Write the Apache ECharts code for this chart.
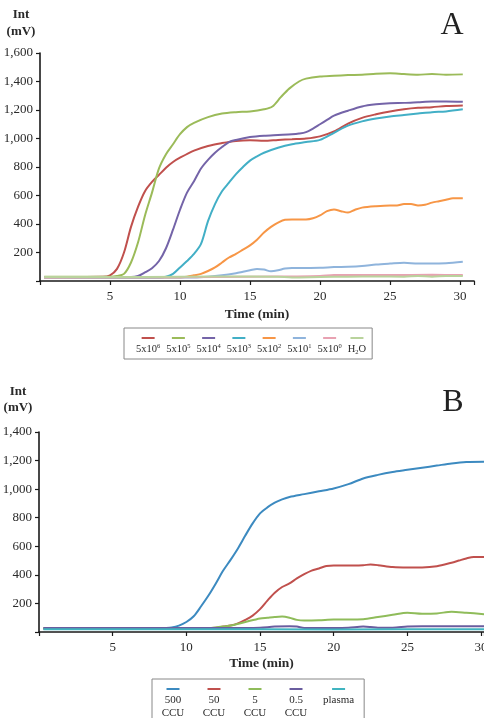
<!DOCTYPE html>
<html>
<head>
<meta charset="utf-8">
<script src="https://cdn.jsdelivr.net/npm/echarts@6/dist/echarts.min.js"></script>
<style>
html,body{margin:0;padding:0;background:#fff;}
#c{width:484px;height:718px;}
</style>
</head>
<body>
<div id="c"></div>
<script>
// ---------- Panel A data ----------
const namesA = ['5x10\u2076', '5x10\u2075', '5x10\u2074', '5x10\u00b3', '5x10\u00b2', '5x10\u00b9', '5x10\u2070', 'H\u2082O'];
// legend text pieces: [base, superscript] or [base, subscript, tail]
const legendPartsA = [['5x10', '6'], ['5x10', '5'], ['5x10', '4'], ['5x10', '3'], ['5x10', '2'], ['5x10', '1'], ['5x10', '0'], ['H', '2', 'O']];
const colorsA = ['#c0504d', '#9bbb59', '#7464a8', '#42afc6', '#f79646', '#8fb4dc', '#e8a2b2', '#b9d39c'];

const tA1 = [0.3, 4.5, 5.0, 5.5, 6.0, 6.5, 7.0, 7.5, 8.0, 8.5, 9.0, 9.5, 10, 11, 12, 13, 14, 15, 16, 17, 18, 19, 20, 21, 22, 23, 24, 25, 26, 27, 28, 29, 30.2];
const vA1 = [28, 30, 40, 85, 200, 380, 520, 630, 695, 745, 795, 835, 865, 915, 948, 968, 983, 988, 984, 990, 995, 1000, 1015, 1050, 1105, 1145, 1170, 1190, 1205, 1215, 1220, 1228, 1232];

const tA2 = [0.3, 5.0, 5.5, 6.0, 6.5, 7.0, 7.5, 8.0, 8.5, 9.0, 9.5, 10, 10.5, 11, 12, 13, 14, 15, 16, 16.6, 17.2, 17.8, 18.5, 19, 20, 21, 22, 23, 24, 25, 26, 27, 28, 29, 30.2];
const vA2 = [30, 30, 35, 50, 130, 270, 460, 620, 790, 890, 960, 1030, 1080, 1110, 1150, 1175, 1185, 1190, 1205, 1225, 1290, 1350, 1400, 1420, 1435, 1440, 1445, 1448, 1455, 1458, 1452, 1448, 1452, 1448, 1450];

const tA3 = [0.3, 6.5, 7.0, 7.5, 8.0, 8.5, 9.0, 9.5, 10, 10.5, 11, 11.5, 12, 12.5, 13, 13.5, 14, 15, 16, 17, 18, 18.5, 19, 19.5, 20, 20.5, 21, 22, 23, 24, 25, 26, 27, 28, 29, 30.2];
const vA3 = [28, 28, 35, 60, 90, 140, 230, 360, 500, 620, 700, 790, 850, 900, 940, 975, 990, 1010, 1020, 1025, 1030, 1035, 1045, 1070, 1100, 1130, 1160, 1195, 1225, 1240, 1248, 1250, 1255, 1260, 1260, 1258];

const tA4 = [0.3, 8.5, 9.0, 9.5, 10, 10.5, 11, 11.5, 12, 12.5, 13, 13.5, 14, 14.5, 15, 15.5, 16, 17, 18, 19, 20, 21, 22, 23, 24, 25, 26, 27, 28, 29, 30.2];
const vA4 = [25, 25, 30, 50, 95, 140, 190, 260, 420, 540, 630, 690, 750, 800, 845, 875, 900, 935, 960, 975, 990, 1040, 1090, 1120, 1140, 1155, 1165, 1175, 1185, 1190, 1205];

const tA5 = [0.3, 10, 10.5, 11, 11.5, 12, 12.5, 13, 13.5, 14, 14.5, 15, 15.5, 16, 16.5, 17, 17.5, 18, 19, 19.5, 20, 20.5, 21, 21.5, 22, 22.5, 23, 24, 25, 25.5, 26, 26.5, 27, 27.5, 28, 28.5, 29, 29.5, 30.2];
const vA5 = [25, 25, 30, 40, 50, 70, 95, 130, 165, 190, 220, 250, 290, 340, 380, 410, 430, 432, 432, 440, 460, 490, 502, 490, 480, 500, 515, 525, 530, 530, 540, 540, 530, 535, 550, 560, 570, 580, 580];

const tA6 = [0.3, 11, 12, 13, 14, 14.5, 15, 15.5, 16, 16.5, 17, 17.5, 18, 19, 20, 21, 22, 23, 24, 25, 26, 27, 28, 29, 30.2];
const vA6 = [25, 25, 30, 40, 55, 65, 75, 85, 80, 68, 75, 88, 92, 92, 93, 98, 100, 105, 115, 122, 128, 122, 122, 125, 135];

const tA7 = [0.3, 10, 15, 18, 20, 21, 22, 25, 28, 30.2];
const vA7 = [25, 27, 30, 32, 35, 42, 42, 42, 43, 42];

const tA8 = [0.3, 5, 10, 15, 17, 18, 20, 22, 24, 26, 27, 28, 29, 30.2];
const vA8 = [28, 28, 30, 32, 30, 25, 28, 30, 32, 30, 35, 30, 35, 35];

const timesA = [tA1, tA2, tA3, tA4, tA5, tA6, tA7, tA8];
const valuesA = [vA1, vA2, vA3, vA4, vA5, vA6, vA7, vA8];

// ---------- Panel B data ----------
const namesB = ['500 CCU', '50 CCU', '5 CCU', '0.5 CCU', 'plasma'];
const legendLinesB = [['500', 'CCU'], ['50', 'CCU'], ['5', 'CCU'], ['0.5', 'CCU'], ['plasma', ' ']];
const colorsB = ['#3c8ac0', '#c0504d', '#8fbc5a', '#6a5d9f', '#40b4c0'];

const tB1 = [0.3, 5, 8, 8.5, 9, 9.5, 10, 10.5, 11, 11.5, 12, 12.5, 13, 13.5, 14, 14.5, 15, 15.5, 16, 16.5, 17, 18, 19, 20, 21, 22, 23, 24, 25, 26, 27, 28, 29, 30.2];
const vB1 = [25, 25, 25, 28, 32, 45, 70, 110, 180, 255, 340, 430, 505, 585, 675, 760, 830, 872, 905, 928, 945, 965, 985, 1005, 1035, 1075, 1100, 1120, 1135, 1150, 1165, 1180, 1190, 1192];

const tB2 = [0.3, 11, 12, 12.5, 13, 13.5, 14, 14.5, 15, 15.5, 16, 16.5, 17, 17.5, 18, 18.5, 19, 19.5, 20, 21, 22, 22.5, 23, 24, 25, 26, 27, 28, 28.5, 29, 29.5, 30.2];
const vB2 = [25, 25, 30, 38, 45, 60, 85, 115, 160, 220, 275, 315, 340, 375, 405, 430, 445, 462, 465, 465, 468, 472, 468, 455, 452, 452, 460, 485, 500, 515, 525, 525];

const tB3 = [0.3, 11, 12, 13, 14, 15, 15.5, 16, 16.5, 17, 17.5, 18, 19, 20, 21, 22, 23, 24, 25, 26, 27, 28, 29, 30.2];
const vB3 = [25, 25, 32, 45, 70, 95, 100, 105, 108, 100, 85, 80, 82, 88, 88, 90, 105, 120, 135, 128, 130, 142, 135, 125];

const tB4 = [0.3, 14, 15, 16, 17, 17.5, 18, 20, 21, 22, 22.5, 23, 24, 25, 26, 28, 30.2];
const vB4 = [28, 28, 30, 38, 40, 38, 28, 28, 30, 38, 35, 30, 30, 38, 40, 40, 40];

const tB5 = [0.3, 10, 20, 30.2];
const vB5 = [20, 20, 18, 20];

const timesB = [tB1, tB2, tB3, tB4, tB5];
const valuesB = [vB1, vB2, vB3, vB4, vB5];

// axis ticks
const yMaxA = 1600, yMaxB = 1400, yStep = 200, xStep = 5;

// ---------- build ----------
const FONT = 'Liberation Serif';
const TXT = '#2a2a2a';
const pairs = (t, v) => t.map((x, i) => [x, v[i]]);

const series = [];
namesA.forEach((n, i) => series.push({
  name: n, type: 'line', xAxisIndex: 0, yAxisIndex: 0,
  data: pairs(timesA[i], valuesA[i]), showSymbol: false, smooth: 0.3,
  lineStyle: { width: 2, color: colorsA[i] }, itemStyle: { color: colorsA[i] }
}));
namesB.forEach((n, i) => series.push({
  name: n, type: 'line', xAxisIndex: 1, yAxisIndex: 1,
  data: pairs(timesB[i], valuesB[i]), showSymbol: false, smooth: 0.3,
  lineStyle: { width: 2, color: colorsB[i] }, itemStyle: { color: colorsB[i] }
}));

const richA = {
  t: { fontFamily: FONT, fontSize: 10.5, color: TXT, align: 'center', lineHeight: 13 },
  s: { fontFamily: FONT, fontSize: 6.5, color: TXT, align: 'center', verticalAlign: 'top', lineHeight: 8 },
  b: { fontFamily: FONT, fontSize: 6.5, color: TXT, align: 'center', verticalAlign: 'bottom', lineHeight: 5 }
};
colorsA.forEach((c, i) => richA['i' + i] = { width: 13, height: 2, backgroundColor: c, align: 'center', lineHeight: 10 });
const richB = {
  t: { fontFamily: FONT, fontSize: 11, color: TXT, align: 'center', width: 28, lineHeight: 13 },
  p: { fontFamily: FONT, fontSize: 11, color: TXT, align: 'center', lineHeight: 13 }
};
colorsB.forEach((c, i) => richB['i' + i] = { width: 13, height: 2, backgroundColor: c, align: 'center', lineHeight: 10 });

const xAxisBase = (max) => ({
  type: 'value', min: 0, max: max, interval: xStep,
  axisLine: { show: true, onZero: false, lineStyle: { color: '#1a1a1a', width: 1.6 } },
  axisTick: { show: true, length: 4, lineStyle: { color: '#1a1a1a', width: 1.2 } },
  axisLabel: { fontFamily: FONT, fontSize: 13, color: TXT, margin: 9, formatter: v => (v === 0 || v % xStep !== 0) ? '' : String(v) },
  splitLine: { show: false },
  name: 'Time (min)', nameLocation: 'middle',
  nameTextStyle: { fontFamily: FONT, fontSize: 13.5, fontWeight: 'bold', color: TXT }
});
const yAxisBase = (max) => ({
  type: 'value', min: 0, max: max, interval: yStep,
  axisLine: { show: true, lineStyle: { color: '#1a1a1a', width: 1.6 } },
  axisTick: { show: true, length: 4, lineStyle: { color: '#1a1a1a', width: 1.2 } },
  axisLabel: { fontFamily: FONT, fontSize: 13, color: TXT, margin: 7, formatter: v => v === 0 ? '' : v.toLocaleString('en-US') },
  splitLine: { show: false }
});

const xA = xAxisBase(31); xA.gridIndex = 0; xA.nameGap = 27;
const xB = xAxisBase(30.2); xB.gridIndex = 1; xB.nameGap = 25;
const yA = yAxisBase(yMaxA); yA.gridIndex = 0;
const yB = yAxisBase(yMaxB); yB.gridIndex = 1;

const option = {
  animation: false,
  backgroundColor: '#fff',
  grid: [
    { left: 40, top: 53, width: 434, height: 228, outerBoundsMode: 'none', containLabel: false },
    { left: 39, top: 432, width: 445, height: 200, outerBoundsMode: 'none', containLabel: false }
  ],
  xAxis: [xA, xB],
  yAxis: [yA, yB],
  legend: [
    {
      data: namesA, left: 124, top: 328, orient: 'horizontal',
      icon: 'none', itemWidth: 0, itemHeight: 24, itemGap: 1,
      padding: [4, 6, 3, 7], borderColor: '#888', borderWidth: 1,
      formatter: n => {
        const i = namesA.indexOf(n); const p = legendPartsA[i];
        const txt = p.length === 2 ? '{t|' + p[0] + '}{s|' + p[1] + '}' : '{t|' + p[0] + '}{b|' + p[1] + '}{t|' + p[2] + '}';
        return '{i' + i + '|}\n' + txt;
      },
      textStyle: { rich: richA }
    },
    {
      data: namesB, left: 152, top: 679, orient: 'horizontal',
      icon: 'none', itemWidth: 0, itemHeight: 34, itemGap: 8,
      padding: [4, 10, 4, 2], borderColor: '#888', borderWidth: 1,
      formatter: n => {
        const i = namesB.indexOf(n); const l = legendLinesB[i];
        const k = i === 4 ? 'p' : 't';
        return '{i' + i + '|}\n{' + k + '|' + l[0] + '}\n{' + k + '|' + l[1] + '}';
      },
      textStyle: { rich: richB }
    }
  ],
  graphic: [
    { type: 'text', x: 21, y: 15, style: { text: 'Int', font: 'bold 13px "Liberation Serif"', fill: TXT, textAlign: 'center', textVerticalAlign: 'middle' } },
    { type: 'text', x: 21, y: 32, style: { text: '(mV)', font: 'bold 13px "Liberation Serif"', fill: TXT, textAlign: 'center', textVerticalAlign: 'middle' } },
    { type: 'text', x: 18, y: 392, style: { text: 'Int', font: 'bold 13px "Liberation Serif"', fill: TXT, textAlign: 'center', textVerticalAlign: 'middle' } },
    { type: 'text', x: 18, y: 408, style: { text: '(mV)', font: 'bold 13px "Liberation Serif"', fill: TXT, textAlign: 'center', textVerticalAlign: 'middle' } },
    { type: 'text', x: 452, y: 26, style: { text: 'A', font: '32px "Liberation Serif"', fill: '#222', textAlign: 'center', textVerticalAlign: 'middle' } },
    { type: 'text', x: 453, y: 403, style: { text: 'B', font: '32px "Liberation Serif"', fill: '#222', textAlign: 'center', textVerticalAlign: 'middle' } }
  ],
  series: series
};

const chart = echarts.init(document.getElementById('c'), null, { renderer: 'canvas' });
chart.setOption(option);
</script>
</body>
</html>
